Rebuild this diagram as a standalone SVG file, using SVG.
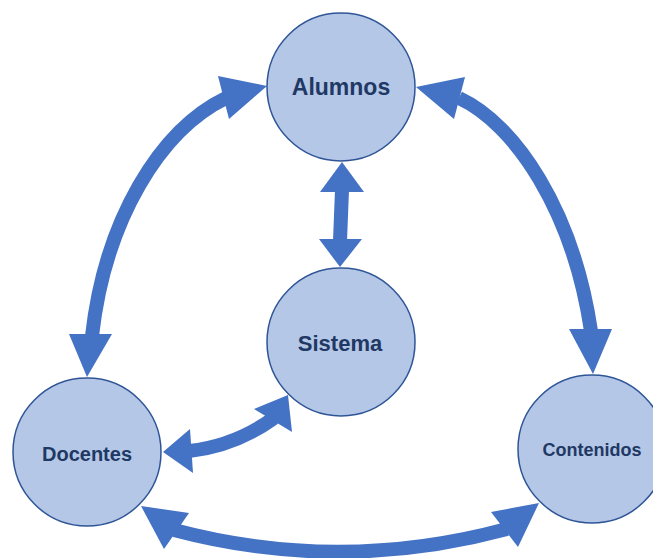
<svg xmlns="http://www.w3.org/2000/svg" width="653" height="558" viewBox="0 0 653 558">
  <style>
    .node { fill: #B4C7E7; stroke: #2F5597; stroke-width: 1.5; }
    .label { font-family: "Liberation Sans", Arial, sans-serif; font-weight: bold; fill: #1F3864; text-anchor: middle; }
    .shaft { fill: none; stroke: #4472C4; stroke-width: 14; stroke-linecap: butt; }
    .head { fill: #4472C4; }
  </style>
  <rect width="653" height="558" fill="#FFFFFF"/>

  <g id="connectors">
    <!-- Alumnos <-> Docentes -->
    <g id="link-alumnos-docentes">
      <path class="shaft" d="M226,98 C160,130 105,220 92,336"/>
      <polygon class="head" points="267,86 218,76 229,119"/>
      <polygon class="head" points="87,377 69,334 112,334"/>
    </g>
    <!-- Alumnos <-> Contenidos -->
    <g id="link-alumnos-contenidos">
      <path class="shaft" d="M459,98 C515,124 573,210 591,331"/>
      <polygon class="head" points="416,87 465,77 454,119"/>
      <polygon class="head" points="593,374 569,329 612,329"/>
    </g>
    <!-- Alumnos <-> Sistema -->
    <g id="link-alumnos-sistema">
      <path class="shaft" d="M342,190 L340,241"/>
      <polygon class="head" points="342,162 320,192 364,192"/>
      <polygon class="head" points="340,267 319,239 362,239"/>
    </g>
    <!-- Docentes <-> Sistema -->
    <g id="link-docentes-sistema">
      <path class="shaft" d="M189,451 Q235,446 274,418"/>
      <polygon class="head" points="288,395 254,409 292,432"/>
      <polygon class="head" points="163,452 190,429 193,473"/>
    </g>
    <!-- Docentes <-> Contenidos -->
    <g id="link-docentes-contenidos">
      <path class="shaft" d="M174,530 Q340,574 507,529"/>
      <polygon class="head" points="141,506 189,513 164,549"/>
      <polygon class="head" points="539,503 491,512 518,547"/>
    </g>
  </g>

  <g id="alumnos">
    <ellipse class="node" cx="341" cy="87" rx="74" ry="74"/>
    <text class="label" x="341" y="95" font-size="23">Alumnos</text>
  </g>
  <g id="sistema">
    <ellipse class="node" cx="341" cy="342" rx="74" ry="74"/>
    <text class="label" x="340" y="351" font-size="22">Sistema</text>
  </g>
  <g id="docentes">
    <ellipse class="node" cx="87" cy="452" rx="74" ry="74"/>
    <text class="label" x="87" y="461" font-size="20">Docentes</text>
  </g>
  <g id="contenidos">
    <ellipse class="node" cx="592" cy="449" rx="74" ry="74"/>
    <text class="label" x="592" y="456" font-size="18">Contenidos</text>
  </g>
</svg>
